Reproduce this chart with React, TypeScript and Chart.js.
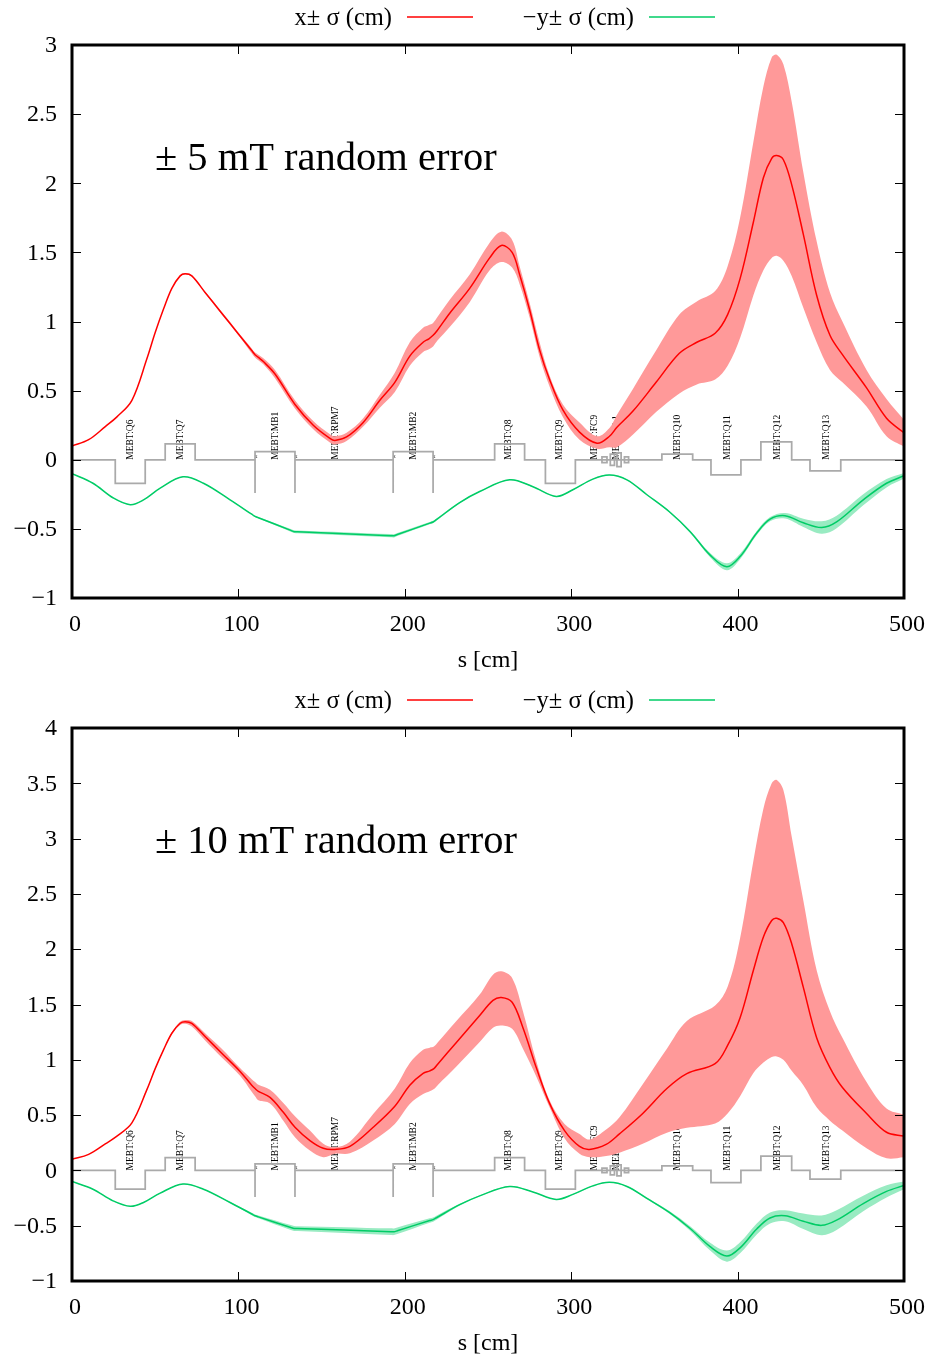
import React, { useEffect, useRef } from "react";
import { Chart, registerables } from "chart.js";

Chart.register(...registerables);

// top panel, x beam centroid and envelope
const sTop = [0,10,20,27,36,45,50,55,60,65,68,72,80,90,100,108,110,112,115,122,134,145,155,158,165,175,185,194,203,211,214.5,217,219.5,227,239,251,258,264.5,269,275,281,287,295,305,315.5,323,327.5,337,351,365,375.5,386.5,394,401.5,409.5,415.5,420.5,423.5,427.5,432.5,439.5,447.5,455.5,463,477.5,489.5,500];
const xTop = [.10,.145,.24,.31,.43,.73,.92,1.09,1.24,1.33,1.345,1.33,1.21,1.06,.91,.79,.76,.74,.71,.62,.40,.25,.155,.14,.165,.27,.43,.56,.75,.85,.875,.90,.935,1.06,1.24,1.46,1.55,1.50,1.34,1.085,.795,.58,.36,.20,.12,.17,.235,.35,.56,.77,.85,.915,1.05,1.31,1.72,2.04,2.18,2.2,2.17,1.99,1.63,1.19,.90,.76,.52,.30,.195];
const xTopHigh = [.10,.145,.24,.31,.43,.73,.92,1.09,1.24,1.335,1.35,1.335,1.215,1.07,.92,.805,.775,.76,.735,.65,.43,.28,.185,.17,.195,.30,.47,.63,.85,.955,.975,.99,1.03,1.157,1.34,1.57,1.65,1.59,1.40,1.135,.85,.61,.40,.27,.17,.23,.325,.51,.79,1.05,1.145,1.22,1.40,1.75,2.30,2.70,2.91,2.93,2.86,2.59,2.08,1.58,1.21,1.0,.65,.44,.29];
const xTopLow = [.10,.145,.24,.31,.43,.73,.92,1.09,1.24,1.325,1.34,1.325,1.205,1.05,.90,.77,.74,.72,.69,.59,.37,.22,.125,.11,.135,.24,.376,.49,.68,.78,.80,.82,.86,.96,1.14,1.37,1.43,1.39,1.27,1.03,.745,.53,.31,.145,.08,.09,.09,.18,.345,.48,.545,.58,.68,.88,1.19,1.37,1.46,1.475,1.44,1.33,1.10,.85,.65,.56,.385,.17,.095];

// bottom panel, x beam centroid and envelope
const sBottom = [0,10,20,27,36,45,50,55,60,65,68,72,80,90,101,108,110,112,119,127,134,143,151,158,167,181,194,203,211,215,217.5,220,231,245,253,258,264.5,271,279,287,296,305,311,321,329,343,357.5,369.5,386.5,394,401.5,409.5,415.5,420.5,423.5,427.5,432.5,439.5,447.5,455.5,463,477.5,489.5,500];
const xBottom = [.10,.145,.24,.31,.43,.73,.92,1.09,1.24,1.33,1.345,1.33,1.21,1.06,.895,.77,.74,.715,.66,.525,.39,.27,.20,.19,.217,.39,.58,.77,.877,.90,.92,.965,1.157,1.40,1.537,1.564,1.52,1.29,.93,.606,.36,.217,.19,.235,.33,.515,.74,.875,.965,1.13,1.38,1.81,2.11,2.26,2.28,2.24,2.05,1.655,1.20,.93,.75,.515,.345,.31];
const xBottomHigh = [.10,.145,.24,.31,.43,.735,.925,1.095,1.25,1.345,1.36,1.35,1.24,1.10,.925,.825,.80,.775,.73,.61,.49,.36,.24,.21,.26,.51,.74,.97,1.09,1.11,1.12,1.16,1.35,1.59,1.77,1.8,1.74,1.44,.99,.635,.42,.33,.28,.37,.48,.78,1.10,1.35,1.49,1.66,2.10,2.80,3.27,3.5,3.53,3.44,3.02,2.44,1.81,1.44,1.2,.80,.56,.505];
const xBottomLow = [.10,.145,.24,.31,.43,.725,.915,1.085,1.23,1.315,1.325,1.30,1.175,1.02,.855,.71,.67,.635,.606,.45,.30,.18,.12,.15,.155,.27,.42,.60,.69,.715,.735,.775,.94,1.16,1.29,1.31,1.28,1.10,.85,.57,.29,.15,.12,.13,.16,.24,.34,.385,.425,.515,.67,.88,.975,1.025,1.03,1.0,.9,.77,.57,.45,.36,.2,.11,.12];

// y beam (plotted negative) on a shared position list
const sY = [0,12.6,24.6,35,43,53,66.7,79,95,108,110,112,131.5,133.5,135.5,191.5,193.5,195.5,215,217,219,233,245,263,277,291,301,313,323,333.5,345.5,359,371.5,383.5,393.5,401.5,411.5,419.5,428.5,439.5,450.5,459.5,475.5,489.5,500];
const yTop = [-.10,-.17,-.275,-.325,-.29,-.205,-.123,-.17,-.29,-.394,-.41,-.419,-.511,-.52,-.5205,-.549,-.55,-.541,-.4585,-.45,-.433,-.31,-.23,-.145,-.195,-.265,-.217,-.14,-.11,-.145,-.253,-.376,-.52,-.69,-.774,-.70,-.53,-.43,-.405,-.456,-.49,-.45,-.29,-.17,-.116];
const yTopHigh = [-.098,-.168,-.273,-.323,-.288,-.203,-.121,-.168,-.288,-.39,-.405,-.414,-.501,-.51,-.511,-.537,-.538,-.53,-.45,-.442,-.425,-.305,-.227,-.142,-.192,-.262,-.214,-.137,-.107,-.142,-.25,-.371,-.512,-.675,-.749,-.68,-.515,-.415,-.385,-.426,-.445,-.405,-.25,-.14,-.096];
const yTopLow = [-.102,-.172,-.277,-.327,-.292,-.207,-.125,-.172,-.292,-.398,-.415,-.424,-.521,-.53,-.531,-.561,-.562,-.552,-.467,-.458,-.441,-.315,-.233,-.148,-.198,-.268,-.22,-.143,-.113,-.148,-.256,-.381,-.528,-.705,-.799,-.72,-.545,-.445,-.425,-.486,-.535,-.495,-.33,-.20,-.136];
const yBottom = [-.10,-.17,-.275,-.325,-.29,-.205,-.123,-.17,-.29,-.394,-.41,-.42,-.516,-.525,-.526,-.554,-.555,-.546,-.453,-.445,-.428,-.31,-.23,-.145,-.195,-.262,-.217,-.14,-.108,-.145,-.253,-.38,-.525,-.69,-.775,-.70,-.53,-.43,-.41,-.46,-.497,-.45,-.30,-.19,-.136];
const yBottomHigh = [-.098,-.168,-.273,-.323,-.288,-.203,-.121,-.168,-.285,-.383,-.398,-.407,-.494,-.503,-.504,-.524,-.525,-.516,-.433,-.425,-.41,-.302,-.227,-.142,-.192,-.259,-.214,-.137,-.105,-.142,-.245,-.368,-.505,-.655,-.725,-.65,-.48,-.38,-.36,-.39,-.407,-.36,-.23,-.135,-.101];
const yBottomLow = [-.102,-.172,-.277,-.327,-.292,-.207,-.125,-.172,-.295,-.405,-.422,-.432,-.538,-.547,-.548,-.584,-.585,-.576,-.473,-.465,-.446,-.318,-.233,-.148,-.198,-.265,-.22,-.143,-.111,-.148,-.261,-.392,-.545,-.725,-.825,-.75,-.58,-.48,-.46,-.53,-.587,-.54,-.37,-.245,-.171];

// lattice outline
const latticeS = [0,26,26,44,44,56,56,74,74,110,110,110,134,134,134,193,193,193,217,217,217,254,254,272,272,284.5,284.5,302.5,302.5,318.5,318.5,321.5,321.5,318.5,318.5,321.5,321.5,323.5,323.5,326,326,323.5,323.5,326,326,327.5,327.5,330,330,327.5,327.5,330,330,332,332,334.5,334.5,332,332,334.5,334.5,354.5,354.5,373,373,384,384,402,402,414,414,432.5,432.5,443.5,443.5,462,462,500];
const latticeV = [0,0,-.17,-.17,0,0,.115,.115,0,0,-.24,.058,.058,-.24,0,0,-.24,.058,.058,-.24,0,0,.115,.115,0,0,-.17,-.17,0,0,.02,.02,-.02,-.02,0,0,0,0,.04,.04,-.04,-.04,0,0,0,0,.05,.05,-.05,-.05,0,0,0,0,.02,.02,-.02,-.02,0,0,0,0,.04,.04,0,0,-.11,-.11,0,0,.13,.13,0,0,-.08,-.08,0,0];

const elementNames = ["MEBT:Q6","MEBT:Q7","MEBT:MB1","MEBT:RPM7","MEBT:MB2","MEBT:Q8","MEBT:Q9","MEBT:FC9","MEBT:SL1","MEBT:Q10","MEBT:Q11","MEBT:Q12","MEBT:Q13"];
const elementS = [35,65.5,122,158.6,205.5,262.6,292.7,314,327.5,364,394,423.7,453.7];
const edgeMarkS = [110,134,193,217];
const edgeMarkText = ["x","x","x","x"];

const xTicks = [0,100,200,300,400,500];
const seriesNames = ["x\u00b1 \u03c3 (cm)", "\u2212y\u00b1 \u03c3 (cm)"];

const RED = "#ff0000";
const GREEN = "#00cc66";
const RED_BAND = "#ff9999";
const GREEN_BAND = "#99ebc2";
const GRAY = "#aaaaaa";
const SERIF = "'Liberation Serif', serif";
const CURVE = 0.35;

const pts = (xs: number[], ys: number[]) => xs.map((x, i) => ({ x, y: ys[i] }));

const line = (label: string, data: any[], color: string) => ({
  label, data, borderColor: color, borderWidth: 1.5, pointRadius: 0,
  tension: CURVE, fill: false,
});
const band = (label: string, high: any[], color: string, toNext: boolean) => ({
  label, data: high, borderWidth: 0, borderColor: "transparent", pointRadius: 0,
  tension: CURVE,
  fill: toNext ? "+1" : false, backgroundColor: color,
});

function Panel(props: any) {
  const ref = useRef<HTMLCanvasElement | null>(null);
  const { top, height, yMax, note, s, x, xHigh, xLow, y, yHigh, yLow, titleBottom } = props;
  useEffect(() => {
    const overlay = {
      id: "overlay",
      beforeDatasetsDraw(chart: any) {
        const { ctx, scales } = chart;
        const zero = scales.y.getPixelForValue(0);
        ctx.save();
        ctx.fillStyle = "#000";
        ctx.font = `9.5px ${SERIF}`;
        ctx.textBaseline = "middle";
        ctx.textAlign = "left";
        elementNames.forEach((name, i) => {
          ctx.save();
          ctx.translate(scales.x.getPixelForValue(elementS[i]), zero);
          ctx.rotate(-Math.PI / 2);
          ctx.fillText(name, 0, 0);
          ctx.restore();
        });
        ctx.fillStyle = "#333";
        ctx.font = `6px ${SERIF}`;
        ctx.textAlign = "center";
        edgeMarkS.forEach((v, i) => {
          ctx.fillText(edgeMarkText[i], scales.x.getPixelForValue(v) + 1, zero - 3);
        });
        ctx.restore();
      },
      afterDatasetsDraw(chart: any) {
        const { ctx, scales, chartArea: a } = chart;
        ctx.save();
        ctx.strokeStyle = "#000";
        ctx.lineWidth = 1;
        ctx.beginPath();
        scales.y.ticks.forEach((t: any) => {
          const p = Math.round(scales.y.getPixelForValue(t.value)) + 0.5;
          ctx.moveTo(a.left, p); ctx.lineTo(a.left + 9, p);
          ctx.moveTo(a.right, p); ctx.lineTo(a.right - 9, p);
        });
        scales.x.ticks.forEach((t: any) => {
          const p = Math.round(scales.x.getPixelForValue(t.value)) + 0.5;
          ctx.moveTo(p, a.top); ctx.lineTo(p, a.top + 9);
          ctx.moveTo(p, a.bottom); ctx.lineTo(p, a.bottom - 9);
        });
        ctx.stroke();
        ctx.lineWidth = 3;
        ctx.strokeRect(a.left, a.top, a.right - a.left, a.bottom - a.top);

        ctx.fillStyle = "#000";
        ctx.textBaseline = "alphabetic";
        ctx.font = `40.5px ${SERIF}`;
        ctx.textAlign = "left";
        ctx.fillText(note, 155, a.top + 124.5);

        // legend: text, then the line sample
        ctx.font = `24.5px ${SERIF}`;
        ctx.textBaseline = "middle";
        ctx.textAlign = "right";
        ctx.fillText(seriesNames[0], 392, 19);
        ctx.fillText(seriesNames[1], 634, 19);
        ctx.lineWidth = 1.5;
        ctx.strokeStyle = RED;
        ctx.beginPath(); ctx.moveTo(407, 17); ctx.lineTo(473, 17); ctx.stroke();
        ctx.strokeStyle = GREEN;
        ctx.beginPath(); ctx.moveTo(649, 17); ctx.lineTo(715, 17); ctx.stroke();
        ctx.restore();
      },
    };
    const chart = new Chart(ref.current as HTMLCanvasElement, {
      type: "line",
      data: {
        datasets: [
          line("x", pts(s, x), RED),
          line("-y", pts(sY, y), GREEN),
          { label: "lattice", data: pts(latticeS, latticeV), borderColor: GRAY, borderWidth: 1.75, pointRadius: 0, tension: 0, fill: false },
          band("x high", pts(s, xHigh), RED_BAND, true),
          band("x low", pts(s, xLow), RED_BAND, false),
          band("y high", pts(sY, yHigh), GREEN_BAND, true),
          band("y low", pts(sY, yLow), GREEN_BAND, false),
        ],
      } as any,
      options: {
        animation: false,
        responsive: false,
        layout: { padding: { top: 45, right: 26, left: 0, bottom: 0 } },
        plugins: { legend: { display: false }, tooltip: { enabled: false } },
        scales: {
          x: {
            type: "linear", min: 0, max: 500,
            afterFit: (sc: any) => { sc.height = height - 598; sc.paddingLeft = 0; sc.paddingRight = 0; },
            afterBuildTicks: (sc: any) => { sc.ticks = xTicks.map((value) => ({ value })); },
            grid: { display: false, drawTicks: false },
            border: { display: false },
            ticks: {
              autoSkip: false, maxRotation: 0, padding: 12, labelOffset: 3,
              color: "#000", font: { family: "Liberation Serif", size: 24 },
            },
            title: {
              display: true, text: "s [cm]", color: "#000",
              font: { family: "Liberation Serif", size: 24 },
              padding: { top: 0, bottom: titleBottom },
            },
          },
          y: {
            type: "linear", min: -1, max: yMax,
            afterFit: (sc: any) => { sc.width = 72; },
            grid: { display: false, drawTicks: false },
            border: { display: false },
            ticks: {
              stepSize: 0.5, padding: 15, autoSkip: false, labelOffset: 1,
              color: "#000", font: { family: "Liberation Serif", size: 24 },
              callback: (v: any) => String(v).replace("-", "\u2212"),
            },
          },
        },
      },
      plugins: [overlay],
    } as any);
    return () => chart.destroy();
  }, []);
  return (
    <canvas
      ref={ref}
      width={930}
      height={height}
      style={{ position: "absolute", left: 0, top, width: 930, height, display: "block" }}
    />
  );
}

export default function App() {
  return (
    <div style={{ position: "absolute", left: 0, top: 0, width: 930, height: 1357, background: "#fff", overflow: "hidden" }}>
      <Panel top={0} height={683} yMax={3} note={"\u00b1 5 mT random error"} titleBottom={8}
        s={sTop} x={xTop} xHigh={xTopHigh} xLow={xTopLow} y={yTop} yHigh={yTopHigh} yLow={yTopLow} />
      <Panel top={683} height={674} yMax={4} note={"\u00b1 10 mT random error"} titleBottom={-1}
        s={sBottom} x={xBottom} xHigh={xBottomHigh} xLow={xBottomLow} y={yBottom} yHigh={yBottomHigh} yLow={yBottomLow} />
    </div>
  );
}
